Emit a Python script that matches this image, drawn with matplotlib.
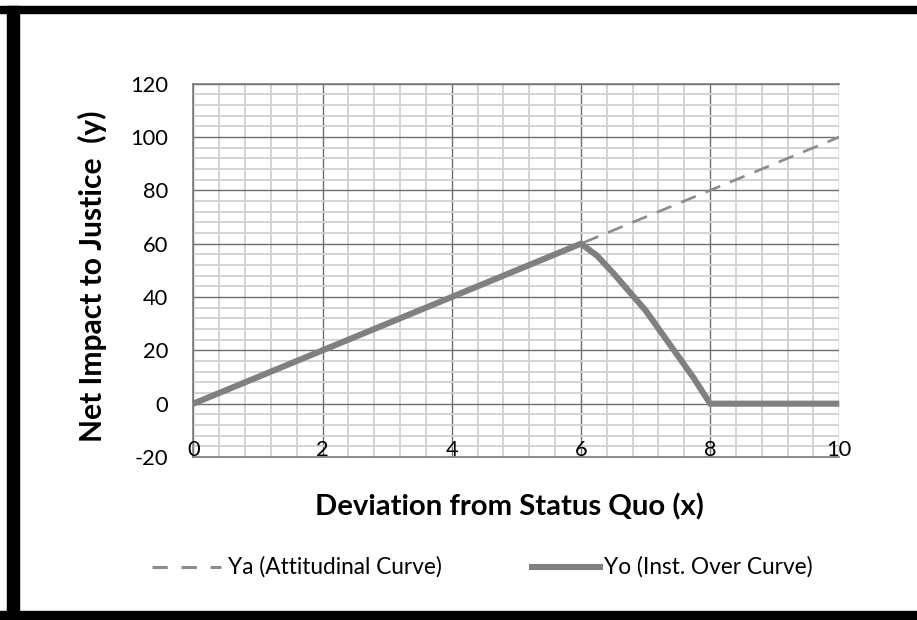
import matplotlib
matplotlib.use("Agg")
import matplotlib.pyplot as plt
from matplotlib.patches import Rectangle
from matplotlib.lines import Line2D
import numpy as np

plt.rcParams['font.family'] = ['Lato', 'DejaVu Sans']

# ---- data ----
xa = [0, 2, 4, 6, 8, 10]
ya = [0, 20, 40, 60, 80, 100]
xo = [0, 2, 4, 6, 6.25, 6.5, 6.75, 7, 7.25, 7.5, 7.75, 8, 9, 10]
yo = [0, 20, 40, 60, 55.5, 49, 42, 35, 26.5, 18, 9.5, 0, 0, 0]
xticks = [0, 2, 4, 6, 8, 10]
xtick_labels = ["0", "2", "4", "6", "8", "10"]
yticks = [-20, 0, 20, 40, 60, 80, 100, 120]
ytick_labels = ["-20", "0", "20", "40", "60", "80", "100", "120"]
label_a = "Ya (Attitudinal Curve)"
label_o = "Yo (Inst. Over Curve)"
xlabel = "Deviation from Status Quo (x)"
ylabel = "Net Impact to Justice  (y)"

W, H = 917, 620
fig = plt.figure(figsize=(W / 100, H / 100), dpi=100)
renderer = fig.canvas.get_renderer()


def fit(t, target, axis=0):
    # scale font so that text extent matches target pixel size
    for _ in range(3):
        bb = t.get_window_extent(renderer=renderer)
        cur = bb.width if axis == 0 else bb.height
        t.set_fontsize(t.get_fontsize() * target / cur)
    return t


ax = fig.add_axes([193.3 / W, 1 - 457 / H, (839.3 - 193.3) / W, (457 - 83.7) / H])

ax.set_xlim(0, 10)
ax.set_ylim(-20, 120)

# grid
ax.set_xticks(xticks)
ax.set_yticks(yticks)
ax.set_xticks(np.arange(0, 10.01, 0.4), minor=True)
ax.set_yticks(np.arange(-20, 120.01, 4), minor=True)
ax.grid(which='minor', color='#d0d0d0', linewidth=1.3, zorder=0)
ax.grid(which='major', color='#6e6e6e', linewidth=1.0, zorder=0.5)
ax.set_axisbelow(True)
for s in ax.spines.values():
    s.set_color('#7a7a7a')
    s.set_linewidth(1.2)
ax.spines['right'].set_visible(False)
ax.tick_params(which='both', length=0)
ax.set_xticklabels([])

# tick font size fitted to "120" width of ~38 px
probe = fig.text(0, 0, "120", fontsize=16)
fit(probe, 38)
tfs = probe.get_fontsize()
probe.remove()

ax.set_yticklabels(ytick_labels, fontsize=tfs, color='black')
ax.tick_params(axis='y', pad=18)

for xv, lab in zip(xticks, xtick_labels):
    ax.text(xv, -19.6, lab, ha='center', va='baseline', fontsize=tfs, color='black', zorder=5)

ax.plot(xa, ya, color='#8c8c8c', linewidth=1.9, dashes=(6, 4), zorder=3, label=label_a)
ax.plot(xo, yo, color='#808080', linewidth=4.4, solid_capstyle='butt', solid_joinstyle='round',
        zorder=4, label=label_o, clip_on=False)

# axis titles
tx = fig.text(509 / W, 1 - 507 / H, xlabel, ha='center', va='center', fontsize=20, fontweight='bold')
fit(tx, 388)
ty = fig.text(92 / W, 1 - 276 / H, ylabel, ha='center', va='center', rotation=90, fontsize=20,
              fontweight='bold')
fit(ty, 332, axis=1)

# legend
ly = 1 - 567 / H
fig.add_artist(Line2D([152 / W, 221 / W], [ly, ly], color='#8c8c8c', linewidth=2.2, dashes=(5, 4.5)))
la = fig.text(228 / W, ly, label_a, ha='left', va='center', fontsize=14.5)
fit(la, 214)
fig.add_artist(Line2D([529 / W, 603 / W], [ly, ly], color='#808080', linewidth=4.4,
                      solid_capstyle='butt'))
lo = fig.text(604 / W, ly, label_o, ha='left', va='center', fontsize=14.5)
fit(lo, 209)

# figure borders
fig.add_artist(Rectangle((0, 1 - 13 / H), 1, 7 / H, transform=fig.transFigure, color='black'))
fig.add_artist(Rectangle((0, 0), 1, 9 / H, transform=fig.transFigure, color='black'))
fig.add_artist(Rectangle((7 / W, 0), 12 / W, 1 - 6 / H, transform=fig.transFigure, color='black'))

fig.savefig("out.png", dpi=100)
